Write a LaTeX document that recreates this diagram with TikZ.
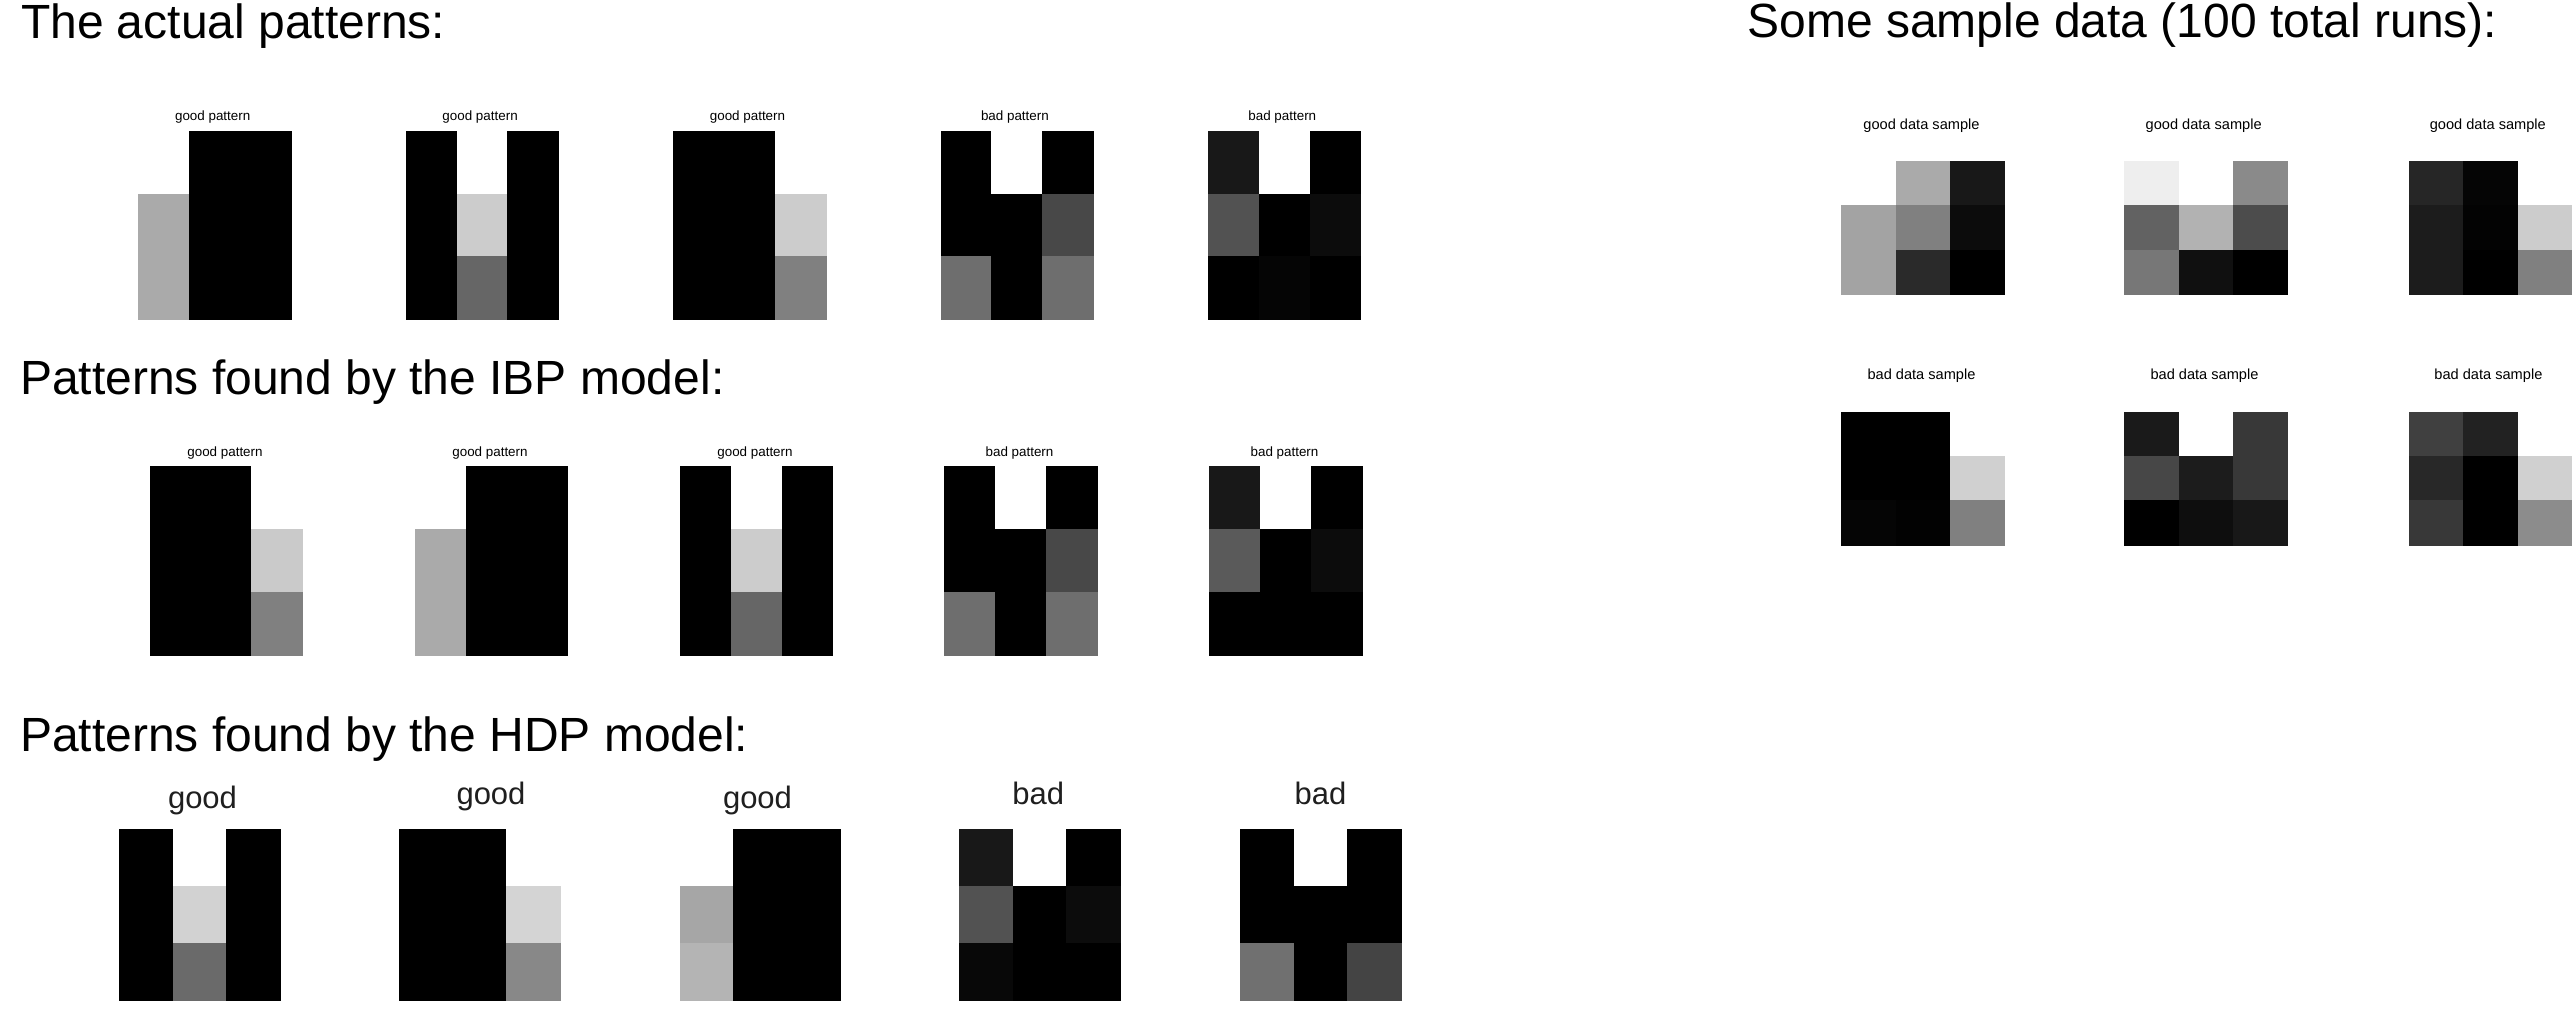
\documentclass[tikz,border=0pt]{standalone}
\usepackage{fontspec}
\setmainfont{Liberation Sans}
\newcommand\pgrid[5]{%
  \foreach \c [count=\i from 0] in {#5}{%
    \pgfmathtruncatemacro\cc{mod(\i,3)}%
    \pgfmathtruncatemacro\rr{div(\i,3)}%
    \definecolor{cellc}{HTML}{\c}%
    \fill[cellc, draw=cellc, line width=0.15pt] ({#1+\cc*#3},{#2+\rr*#4}) rectangle ++(#3,#4);
  }}
\begin{document}
\begin{tikzpicture}[x=0.5pt,y=-0.5pt,
  every node/.style={inner sep=0pt, outer sep=0pt},
  title/.style={font=\fontsize{24pt}{28pt}\selectfont, anchor=base west},
  lblpat/.style={font=\fontsize{6.7pt}{8pt}\selectfont},
  lblsamp/.style={font=\fontsize{7.3pt}{9pt}\selectfont},
  lblhdp/.style={font=\fontsize{15.5pt}{18pt}\selectfont, text=black!88}]
\useasboundingbox (0,0) rectangle (2572,1009);
\fill[white] (0,0) rectangle (2572,1009);

% titles
\node[title] (t1) at (21,38) {The actual patterns:};
\node[title] (t2) at (20,394.3) {Patterns found by the IBP model:};
\node[title] (t3) at (20,751.7) {Patterns found by the HDP model:};
\node[title] (t4) at (1747.5,37.5) {Some sample data (100 total runs):};

% ---- row 1: actual patterns
\pgrid{138.5}{131}{50.8}{62.8}{FFFFFF,000000,000000,AAAAAA,000000,000000,AAAAAA,000000,000000}
\pgrid{405.9}{131}{50.8}{62.8}{000000,FFFFFF,000000,000000,CCCCCC,000000,000000,666666,000000}
\pgrid{673.3}{131}{50.8}{62.8}{000000,000000,FFFFFF,000000,000000,CCCCCC,000000,000000,808080}
\pgrid{940.7}{131}{50.8}{62.8}{000000,FFFFFF,000000,000000,000000,484848,6E6E6E,000000,6E6E6E}
\pgrid{1208.1}{131}{50.8}{62.8}{181818,FFFFFF,000000,525252,000000,0C0C0C,000000,050505,000000}
\node[lblpat] (a1) at (212.7,117.2) {good pattern};
\node[lblpat] (a2) at (480.1,117.2) {good pattern};
\node[lblpat] (a3) at (747.5,117.2) {good pattern};
\node[lblpat] (a4) at (1014.9,117.2) {bad pattern};
\node[lblpat] (a5) at (1282.3,117.2) {bad pattern};

% ---- row 2: IBP
\pgrid{150}{466}{50.8}{63}{000000,000000,FFFFFF,000000,000000,CACACA,000000,000000,808080}
\pgrid{415.1}{466}{50.8}{63}{FFFFFF,000000,000000,AAAAAA,000000,000000,AAAAAA,000000,000000}
\pgrid{680.2}{466}{50.8}{63}{000000,FFFFFF,000000,000000,CCCCCC,000000,000000,666666,000000}
\pgrid{944.5}{466}{50.8}{63}{000000,FFFFFF,000000,000000,000000,484848,6E6E6E,000000,6E6E6E}
\pgrid{1209.3}{466}{50.8}{63}{181818,FFFFFF,000000,5A5A5A,000000,0C0C0C,000000,000000,000000}
\node[lblpat] (b1) at (225,453.3) {good pattern};
\node[lblpat] (b2) at (490,453.3) {good pattern};
\node[lblpat] (b3) at (755,453.3) {good pattern};
\node[lblpat] (b4) at (1019.5,453.3) {bad pattern};
\node[lblpat] (b5) at (1284.5,453.3) {bad pattern};

% ---- row 3: HDP
\pgrid{119.4}{828.7}{53.5}{57.1}{000000,FFFFFF,000000,000000,D2D2D2,000000,000000,6A6A6A,000000}
\pgrid{399.6}{828.7}{53.5}{57.1}{000000,000000,FFFFFF,000000,000000,D4D4D4,000000,000000,888888}
\pgrid{679.7}{828.7}{53.5}{57.1}{FFFFFF,000000,000000,A6A6A6,000000,000000,B4B4B4,000000,000000}
\pgrid{959.5}{828.7}{53.5}{57.1}{181818,FFFFFF,000000,525252,000000,0C0C0C,080808,000000,000000}
\pgrid{1240.5}{828.7}{53.5}{57.1}{000000,FFFFFF,000000,000000,000000,000000,707070,000000,444444}
\node[lblhdp] (c1) at (202.5,800) {good};
\node[lblhdp] (c2) at (491,796.7) {good};
\node[lblhdp] (c3) at (757.5,800) {good};
\node[lblhdp] (c4) at (1038.3,793.3) {bad};
\node[lblhdp] (c5) at (1320.5,793.3) {bad};

% ---- sample data
\pgrid{1841.6}{161}{54.3}{44.4}{FFFFFF,AAAAAA,181818,A3A3A3,808080,0C0C0C,A3A3A3,2A2A2A,000000}
\pgrid{2124.6}{161}{54.3}{44.4}{EEEEEE,FFFFFF,8A8A8A,626262,B2B2B2,4C4C4C,777777,101010,000000}
\pgrid{2409.1}{161}{54.3}{44.4}{262626,050505,FFFFFF,1C1C1C,030303,CCCCCC,1C1C1C,000000,808080}
\pgrid{1841.6}{411.7}{54.3}{44.4}{000000,000000,FFFFFF,000000,000000,D0D0D0,050505,020202,808080}
\pgrid{2124.6}{411.7}{54.3}{44.4}{1A1A1A,FFFFFF,383838,474747,1C1C1C,383838,000000,0E0E0E,181818}
\pgrid{2409.1}{411.7}{54.3}{44.4}{404040,222222,FFFFFF,282828,000000,D0D0D0,383838,000000,8C8C8C}
\node[lblsamp] (s1) at (1921.5,125.8) {good data sample};
\node[lblsamp] (s2) at (2203.7,125.8) {good data sample};
\node[lblsamp] (s3) at (2487.8,125.8) {good data sample};
\node[lblsamp] (s4) at (1921.5,375.5) {bad data sample};
\node[lblsamp] (s5) at (2204.5,375.5) {bad data sample};
\node[lblsamp] (s6) at (2488.4,375.5) {bad data sample};
\end{tikzpicture}
\end{document}
